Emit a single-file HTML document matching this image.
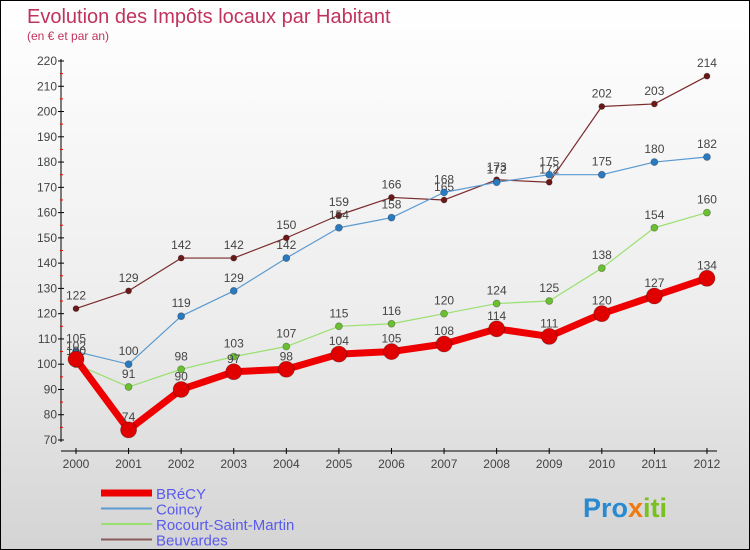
<!DOCTYPE html>
<html><head><meta charset="utf-8"><style>
body{margin:0}
#c{position:relative;width:748px;height:548px;border:1px solid #000;background:linear-gradient(#fff,#ececec 60%,#d4d4d4);font-family:"Liberation Sans",sans-serif;overflow:hidden}
</style></head><body>
<div id="c">
<svg id="s" width="748" height="548" xmlns="http://www.w3.org/2000/svg" style="position:absolute;left:0;top:0">
<text x="26" y="22" font-size="20" fill="#c0335e">Evolution des Impôts locaux par Habitant</text>
<text x="26" y="39" font-size="12" fill="#c0335e">(en € et par an)</text>
<g id="ax"></g><g id="series"></g><g id="leg"></g>
<text x="582" y="516" font-size="27" font-weight="bold" fill="#2a8ad0">Pro<tspan fill="#f07a10">x</tspan><tspan fill="#7ac020">iti</tspan></text>
</svg>
</div>
<script>
const years=[2000,2001,2002,2003,2004,2005,2006,2007,2008,2009,2010,2011,2012];
const yTicks=[70,80,90,100,110,120,130,140,150,160,170,180,190,200,210,220];
const brecy=[102,74,90,97,98,104,105,108,114,111,120,127,134];
const coincy=[105,100,119,129,142,154,158,168,172,175,175,180,182];
const rocourt=[100,91,98,103,107,115,116,120,124,125,138,154,160];
const beuvardes=[122,129,142,142,150,159,166,165,173,172,202,203,214];
const NS="http://www.w3.org/2000/svg";
const X=i=>75+i*52.58, Y=v=>60+(220-v)*379/150;
function mk(p,t,a){const e=document.createElementNS(NS,t);for(const k in a)e.setAttribute(k,a[k]);p.appendChild(e);return e;}
const ax=document.getElementById('ax');
let l=mk(ax,'line',{x1:60,y1:58,x2:60,y2:441,stroke:'#000'});

l=mk(ax,'line',{x1:60,y1:450,x2:716,y2:450,stroke:'#000'});

yTicks.forEach(v=>{const y=Y(v);mk(ax,'line',{x1:57,y1:y,x2:63,y2:y,stroke:'#000'});
 if(v<220)mk(ax,'line',{x1:59,y1:Y(v+5),x2:62,y2:Y(v+5),stroke:'#f00'});
 const t=mk(ax,'text',{x:56,y:y+4,'font-size':12,fill:'#444','text-anchor':'end'});t.textContent=v;
 });
years.forEach((yr,i)=>{mk(ax,'line',{x1:X(i),y1:447,x2:X(i),y2:453,stroke:'#000'});
 const t=mk(ax,'text',{x:X(i),y:467,'font-size':12,fill:'#444','text-anchor':'middle'});t.textContent=yr;
 });
const defs=[[beuvardes,'#7a2a2a','#6a1818',1.2,3,'beuvardes'],[coincy,'#5a9ad0','#2a7ac0',1.2,3.5,'coincy'],[rocourt,'#9ae070','#6ac030',1.2,3.5,'rocourt-saint-martin'],[brecy,'#ee0000','#e00000',7,8,'brecy']];
const sg=document.getElementById('series');
defs.forEach(([d,c,pc,w,r,n])=>{
 const g=mk(sg,'g',{});
 const p=mk(g,'polyline',{points:d.map((v,i)=>X(i)+','+Y(v)).join(' '),fill:'none',stroke:c,'stroke-width':w,'stroke-linejoin':'round'});
 
 d.forEach((v,i)=>{const ci=mk(g,'circle',{cx:X(i),cy:Y(v),r:r,fill:pc,stroke:'rgba(0,0,0,0.3)','stroke-width':0.8});
  
  const t=mk(g,'text',{x:X(i),y:Y(v)-9,'font-size':12,fill:'#444','text-anchor':'middle'});t.textContent=v;
  });
});
const leg=document.getElementById('leg');
[['BRéCY','#ee0000',7],['Coincy','#5a9ad0',2],['Rocourt-Saint-Martin','#9ae070',2],['Beuvardes','#8a5a5a',2]].forEach(([n,c,w],i)=>{
 const y=492+i*15.5;
 const g=mk(leg,'g',{});
 mk(g,'line',{x1:100,y1:y,x2:151,y2:y,stroke:c,'stroke-width':w});
 const t=mk(g,'text',{x:155,y:y+6,'font-size':15,fill:'#5a5aee'});t.textContent=n;});
</script>
</body></html>
